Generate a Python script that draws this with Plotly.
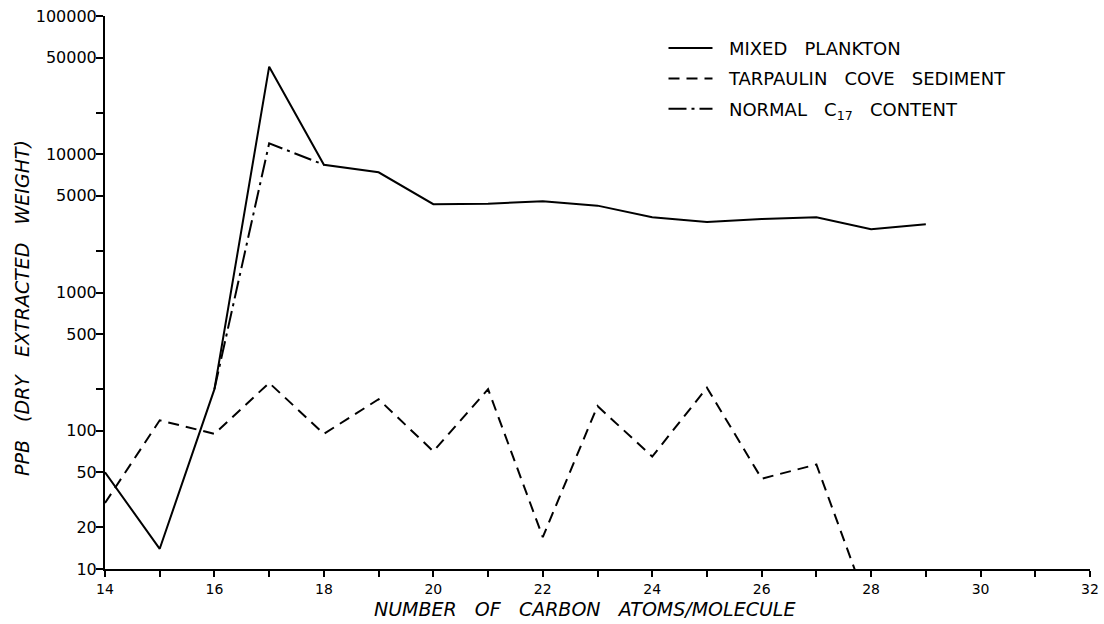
import plotly.graph_objects as go

# Carbon number of the n-alkane (x axis)
carbon_plankton = [14, 15, 16, 17, 18, 19, 20, 21, 22, 23, 24, 25, 26, 27, 28, 29]
ppb_plankton = [50, 14, 200, 43000, 8400, 7400, 4350, 4380, 4580, 4250, 3500, 3230, 3400, 3500, 2870, 3120]

carbon_sediment = [14, 15, 16, 17, 18, 19, 20, 21, 22, 23, 24, 25, 26, 27, 28]
ppb_sediment = [30, 119, 95, 222, 95, 169, 71, 200, 17, 151, 65, 205, 45, 57, 4.7]

carbon_normal = [16, 17, 18]
ppb_normal = [200, 12000, 8400]

x_ticks = list(range(14, 33))
x_ticktext = [str(v) if v % 2 == 0 else "" for v in x_ticks]
y_ticks = [10, 20, 50, 100, 200, 500, 1000, 2000, 5000, 10000, 20000, 50000, 100000]
y_ticktext = ["10", "20", "50", "100", "", "500", "1000", "", "5000", "10000", "", "50000", "100000"]

SP = "\u00a0"
FONT = "DejaVu Sans"


def spaced(*words, gap=3):
    return (SP * gap).join(words)


fig = go.Figure()
fig.add_trace(go.Scatter(
    x=carbon_plankton, y=ppb_plankton, mode="lines",
    name=SP * 2 + spaced("MIXED", "PLANKTON"), legendgroup="a",
    line=dict(color="black", width=2),
))
fig.add_trace(go.Scatter(
    x=carbon_sediment, y=ppb_sediment, mode="lines",
    name=SP * 2 + spaced("TARPAULIN", "COVE", "SEDIMENT"), legendgroup="b",
    line=dict(color="black", width=2, dash="11px,7px"),
))
fig.add_trace(go.Scatter(
    x=carbon_normal, y=ppb_normal, mode="lines",
    name=SP * 2 + spaced("NORMAL", "C<sub>17</sub>", "CONTENT"), legendgroup="c",
    line=dict(color="black", width=2, dash="18px,5px,3px,5px"),
))

fig.update_layout(
    width=1104, height=624,
    margin=dict(l=105, r=14, t=16, b=55, autoexpand=False),
    paper_bgcolor="white", plot_bgcolor="white",
    font=dict(family=FONT, color="black", size=15),
    showlegend=True,
    legend=dict(
        x=0.567, y=0.975, xanchor="left", yanchor="top",
        bgcolor="rgba(0,0,0,0)", borderwidth=0,
        font=dict(family=FONT, size=18, color="black"),
        tracegroupgap=4, itemwidth=44,
    ),
    xaxis=dict(
        range=[14, 32], showgrid=False, zeroline=False,
        showline=True, linecolor="black", linewidth=2,
        ticks="outside", ticklen=6, tickwidth=2, tickcolor="black",
        tickvals=x_ticks, ticktext=x_ticktext,
        tickfont=dict(family=FONT, size=14, color="black"),
    ),
    yaxis=dict(
        type="log", range=[1, 5], showgrid=False, zeroline=False,
        showline=True, linecolor="black", linewidth=2,
        ticks="outside", ticklen=7, tickwidth=2, tickcolor="black",
        tickvals=y_ticks, ticktext=y_ticktext, ticklabelstandoff=-4,
        tickfont=dict(family=FONT, size=16, color="black"),
    ),
    annotations=[
        dict(
            text=spaced("NUMBER", "OF", "CARBON", "ATOMS/MOLECULE"),
            xref="paper", yref="paper", x=0.487, y=-0.072,
            xanchor="center", yanchor="middle", showarrow=False,
            font=dict(family=FONT, size=19, color="black", style="italic"),
        ),
        dict(
            text=spaced("PPB", "(DRY", "EXTRACTED", "WEIGHT)"),
            xref="paper", yref="paper", x=-0.0843, y=0.472,
            xanchor="center", yanchor="middle", showarrow=False, textangle=-90,
            font=dict(family=FONT, size=19, color="black", style="italic"),
        ),
    ],
)

fig.write_html("out.html")
